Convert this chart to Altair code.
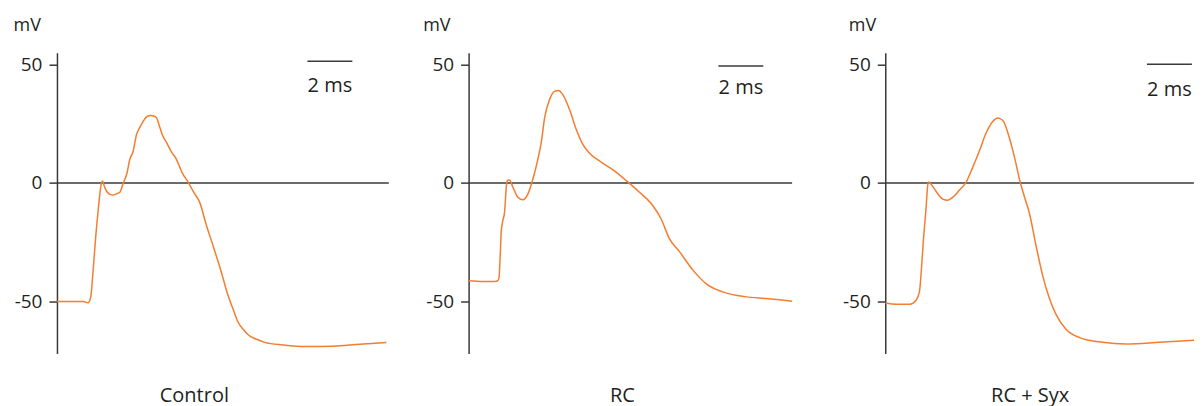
import altair as alt
import pandas as pd

# ---------------- data (time in ms, membrane potential in mV) ----------------
control_t = [0.00, 1.16, 1.38, 1.50, 1.60, 1.73, 1.84, 1.91, 1.99, 2.03, 2.11, 2.21, 2.36, 2.50,
             2.67, 2.80, 2.95, 3.11, 3.24, 3.39, 3.54, 3.69, 3.84, 4.00, 4.16, 4.31, 4.43, 4.56,
             4.68, 4.88, 5.07, 5.32, 5.56, 5.84, 6.09, 6.36, 6.62, 6.95, 7.32, 7.56, 7.84, 8.04,
             8.28, 8.53, 8.88, 9.24, 10.06, 11.10, 12.27, 13.47, 14.65]
control_v = [-50, -50, -50.6, -48.3, -38, -22, -11, -4.5, 0.3, 0.8, -1.5, -3.5, -4.8, -5.1,
             -4.5, -3.9, 0, 4, 9.9, 13.4, 20.5, 23.5, 26.1, 28, 28.5, 28.3, 27.5, 24,
             20.5, 17, 13.5, 9.9, 4.5, 0.3, -4, -8.4, -17, -26.7, -37.9, -46, -53.4, -58.5,
             -61.8, -64.3, -66, -67.3, -68.4, -69.1, -68.9, -68.1, -67.4]

rc_t = [0.00, 0.64, 1.16, 1.29, 1.35, 1.40, 1.45, 1.52, 1.60, 1.67, 1.70, 1.75, 1.82, 1.97,
        2.19, 2.41, 2.64, 2.86, 3.08, 3.23, 3.38, 3.60, 3.82, 4.00, 4.19, 4.49, 4.79, 5.08,
        5.38, 5.82, 6.41, 7.01, 7.60, 8.19, 8.56, 8.93, 9.38, 9.97, 10.56, 11.30, 12.34,
        13.23, 14.39]
rc_v = [-41.3, -41.6, -41.6, -41.3, -40.2, -32, -20.7, -16, -12.3, -2.5, 0.3, 1.3, 1.3, -1.8,
        -6, -7.1, -4.6, 1.7, 10, 17, 27.5, 35.2, 38.7, 39.1, 37.3, 31, 22.6, 16.3,
        12.6, 9.3, 5.6, 1, -3.9, -9.5, -15.1, -23.5, -29, -36.7, -42.5, -46, -48.1,
        -48.8, -49.9]

syx_t = [0.00, 0.49, 1.08, 1.38, 1.52, 1.64, 1.70, 1.82, 1.88, 1.92, 2.04, 2.27, 2.56, 2.78,
         3.00, 3.30, 3.60, 3.89, 4.19, 4.49, 4.78, 5.00, 5.23, 5.52, 5.75, 6.00, 6.19, 6.41,
         6.71, 7.00, 7.30, 7.60, 8.04, 8.64, 9.67, 10.71, 12.19, 14.09]
syx_v = [-50.7, -51.2, -51.2, -49.4, -45.9, -32, -23.8, -10, -1.7, 0.4, -0.5, -3.7, -6.8, -7.3,
         -6.1, -3, 0.4, 6.6, 13.6, 21.2, 26, 27.4, 26.4, 19.1, 10.8, 0.4, -5.8, -12.7,
         -26.6, -39, -48.7, -55.6, -61.8, -65.3, -67.3, -68, -67.3, -66.2]

titles = ["Control", "RC", "RC + Syx"]
zero_end = [14.76, 14.39, 13.73]          # end of the 0 mV baseline (ms)
bar_start = [11.14, 11.11, 11.64]         # 2 ms scale bar start (ms)
bar_mv = [51.4, 49.4, 50.1]               # scale bar level (mV)
bar_label_mv = [38.3, 37.7, 36.8]         # scale bar label level (mV)
y_ticks = [50, 0, -50]

# ---------------- styling ----------------
FONT = "Open Sans"
TXT = "#231f20"
AX = "#3a3a3a"
ORANGE = "#f47d30"
PX_PER_MS = 22.5
widths = [332, 337, 309]
mv_dx = [-44, -46, -37]
title_dx = [-28.5, -14.5, -9.5]


def panel(i, t, v):
    w = widths[i]
    xs = alt.Scale(domain=[0, w / PX_PER_MS], nice=False, zero=False)
    ys = alt.Scale(domain=[-72, 55], nice=False, zero=False)
    yaxis = alt.Axis(values=y_ticks, grid=False, tickSize=8, labelPadding=7,
                     labelExpr="'' + datum.value",
                     labelFont=FONT, labelFontSize=19, labelColor=TXT,
                     domainColor=AX, tickColor=AX, domainWidth=1.5, tickWidth=1.5,
                     title="mV", titleAngle=0, titleX=mv_dx[i], titleY=-22,
                     titleAlign="left", titleBaseline="alphabetic",
                     titleFont=FONT, titleFontSize=18, titleFontWeight="normal",
                     titleColor=TXT)

    def X(f):
        return alt.X(f, type="quantitative", scale=xs, axis=None)

    def Y(f):
        return alt.Y(f, type="quantitative", scale=ys, axis=yaxis)

    df = pd.DataFrame({"t": t, "v": v})
    zero_df = pd.DataFrame({"t0": [0.0], "t1": [zero_end[i]], "v": [0.0]})
    bar_df = pd.DataFrame({"t0": [bar_start[i]], "t1": [bar_start[i] + 2.0],
                           "v": [bar_mv[i]], "tm": [bar_start[i] + 1.0],
                           "lv": [bar_label_mv[i]], "lab": ["2 ms"]})

    zero = alt.Chart(zero_df).mark_rule(color=AX, strokeWidth=1.5).encode(
        x=X("t0"), x2="t1", y=Y("v"))
    trace = alt.Chart(df).mark_line(color=ORANGE, strokeWidth=1.5,
                                    interpolate="monotone", clip=True).encode(
        x=X("t"), y=Y("v"))
    bar = alt.Chart(bar_df).mark_rule(color=AX, strokeWidth=1.5).encode(
        x=X("t0"), x2="t1", y=Y("v"))
    lab = alt.Chart(bar_df).mark_text(font=FONT, fontSize=20, color=TXT,
                                      align="center", baseline="alphabetic").encode(
        x=X("tm"), y=Y("lv"), text="lab:N")

    return alt.layer(zero, trace, bar, lab).properties(
        width=w, height=301,
        title=alt.TitleParams(titles[i], orient="bottom", baseline="alphabetic",
                              offset=49, dx=title_dx[i], anchor="middle",
                              font=FONT, fontSize=20, fontWeight="normal", color=TXT))


chart = alt.hconcat(
    panel(0, control_t, control_v),
    panel(1, rc_t, rc_v),
    panel(2, syx_t, syx_v),
    spacing=80, bounds="flush",
).resolve_scale(x="independent", y="independent").properties(
    padding={"left": 5, "top": 8.6, "right": 0, "bottom": 15},
    background="white",
).configure_view(stroke=None)

chart.save("out.html", embed_options={"renderer": "svg", "actions": False})
